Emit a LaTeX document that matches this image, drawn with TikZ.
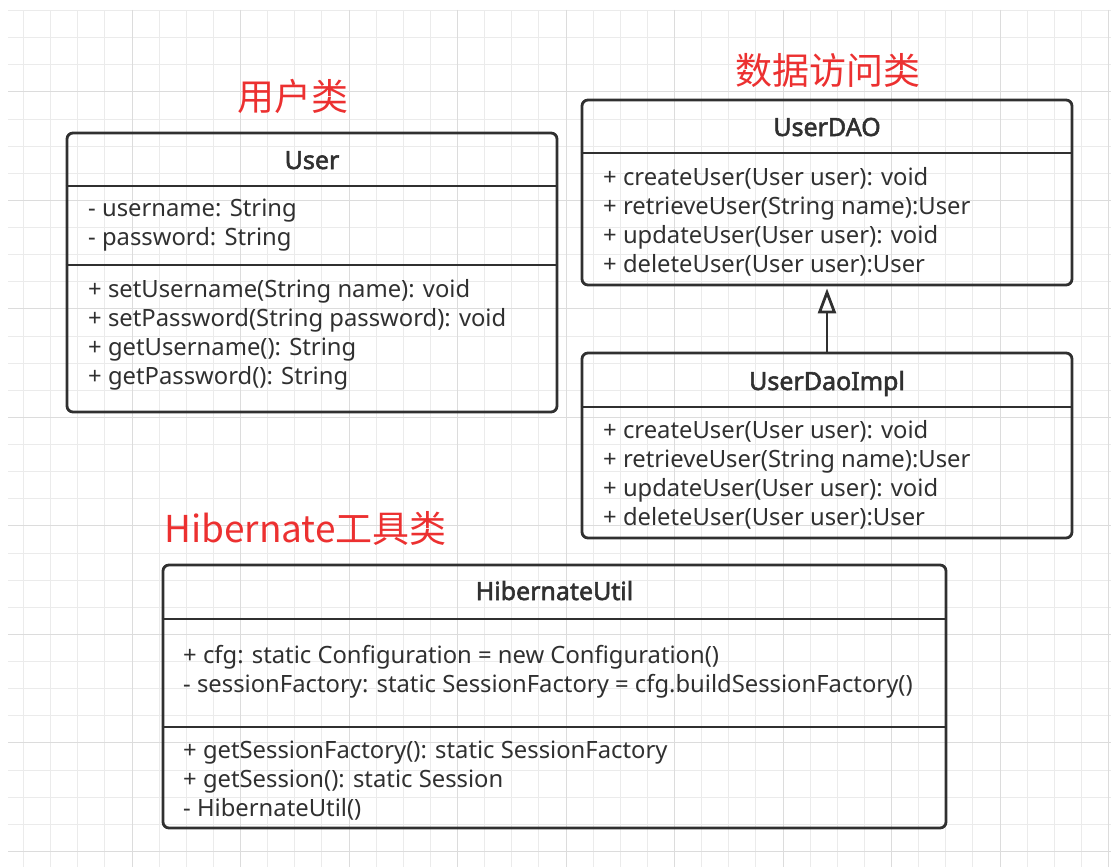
\documentclass[tikz,border=0pt]{standalone}
\usepackage{fontspec}
\setmainfont{Noto Sans}
\newfontfamily\cjk{Noto Sans CJK SC}
\newfontfamily\headfont{Noto Sans}[FakeBold=2.2]
\usetikzlibrary{arrows.meta}

\definecolor{inkgray}{HTML}{303030}
\definecolor{gridminor}{HTML}{EBEBEB}
\definecolor{gridmajor}{HTML}{DCDCDC}
\definecolor{notered}{RGB}{236,48,48}

\tikzset{
  classbox/.style={draw=inkgray, line width=2.8pt, rounded corners=6pt, inner sep=0pt},
  divider/.style={draw=inkgray, line width=2.8pt},
  classname/.style={inner sep=0pt, anchor=base, text=inkgray, font=\headfont\fontsize{25}{29}\selectfont},
  member/.style={inner sep=0pt, anchor=base west, text=inkgray, font=\fontsize{23.8}{29}\selectfont},
  note/.style={inner sep=0pt, text=notered, font=\cjk\fontsize{37}{40}\selectfont},
  realizes/.style={draw=inkgray, line width=2.8pt, -{Triangle[open, length=25pt, width=18pt]}},
}

\begin{document}
\begin{tikzpicture}[x=1pt, y=-1pt]
\useasboundingbox (0,0) rectangle (1111,867);

% background grid
\begin{scope}
\clip (8,10) rectangle (1111,867);
\foreach \i in {0,...,40}
  \draw[gridminor, line width=1pt] ({23.5+27.125*\i},10) -- ({23.5+27.125*\i},867);
\foreach \j in {0,...,31}
  \draw[gridminor, line width=1pt] (8,{10.6+27.125*\j}) -- (1111,{10.6+27.125*\j});
\foreach \i in {4,8,...,40}
  \draw[gridmajor, line width=1pt] ({23.5+27.125*\i},10) -- ({23.5+27.125*\i},867);
\foreach \j in {3,7,...,31}
  \draw[gridmajor, line width=1pt] (8,{10.6+27.125*\j}) -- (1111,{10.6+27.125*\j});
\end{scope}

% labels
\node[note] (usernote) at (293,96) {用户类};
\node[note] (daonote) at (828,70) {数据访问类};
\node[note, anchor=west] (utilnote) at (164,528) {Hibernate工具类};

% User
\node[classbox, minimum width=490pt, minimum height=279pt] (user) at (312,272.5) {};
\node[classname] (usertitle) at (user.north |- 0,169) {User};
\draw[divider] (user.west |- 0,186) -- (user.east |- 0,186);
\draw[divider] (user.west |- 0,265) -- (user.east |- 0,265);
\foreach \txt [count=\i] in {{- username: String}, {- password: String}}
  \node[member] (userattr\i) at (88,{216+29*(\i-1)}) {\txt};
\foreach \txt [count=\i] in {{+ setUsername(String name): void}, {+ setPassword(String password): void},
    {+ getUsername(): String}, {+ getPassword(): String}}
  \node[member] (usermeth\i) at (88,{297+29*(\i-1)}) {\txt};

% UserDAO
\node[classbox, minimum width=490pt, minimum height=185pt] (dao) at (827,192.5) {};
\node[classname] (daotitle) at (dao.north |- 0,136) {UserDAO};
\draw[divider] (dao.west |- 0,153) -- (dao.east |- 0,153);
\foreach \txt [count=\i] in {{+ createUser(User user): void}, {+ retrieveUser(String name):User},
    {+ updateUser(User user): void}, {+ deleteUser(User user):User}}
  \node[member] (daometh\i) at (603,{185+29*(\i-1)}) {\txt};

% UserDaoImpl
\node[classbox, minimum width=490pt, minimum height=185pt] (impl) at (827,445.5) {};
\node[classname] (impltitle) at (impl.north |- 0,390) {UserDaoImpl};
\draw[divider] (impl.west |- 0,407) -- (impl.east |- 0,407);
\foreach \txt [count=\i] in {{+ createUser(User user): void}, {+ retrieveUser(String name):User},
    {+ updateUser(User user): void}, {+ deleteUser(User user):User}}
  \node[member] (implmeth\i) at (603,{438+29*(\i-1)}) {\txt};

\draw[realizes, shorten >=2pt] (impl.north) -- (dao.south);

% HibernateUtil
\node[classbox, minimum width=783pt, minimum height=263pt] (util) at (554.5,696.5) {};
\node[classname] (utiltitle) at (util.north |- 0,600) {HibernateUtil};
\draw[divider] (util.west |- 0,619) -- (util.east |- 0,619);
\draw[divider] (util.west |- 0,727) -- (util.east |- 0,727);
\foreach \txt [count=\i] in {{+ cfg: static Configuration = new Configuration()},
    {- sessionFactory: static SessionFactory = cfg.buildSessionFactory()}}
  \node[member] (utilattr\i) at (183,{663+29*(\i-1)}) {\txt};
\foreach \txt [count=\i] in {{+ getSessionFactory(): static SessionFactory}, {+ getSession(): static Session},
    {- HibernateUtil()}}
  \node[member] (utilmeth\i) at (183,{758+29*(\i-1)}) {\txt};

\end{tikzpicture}
\end{document}
